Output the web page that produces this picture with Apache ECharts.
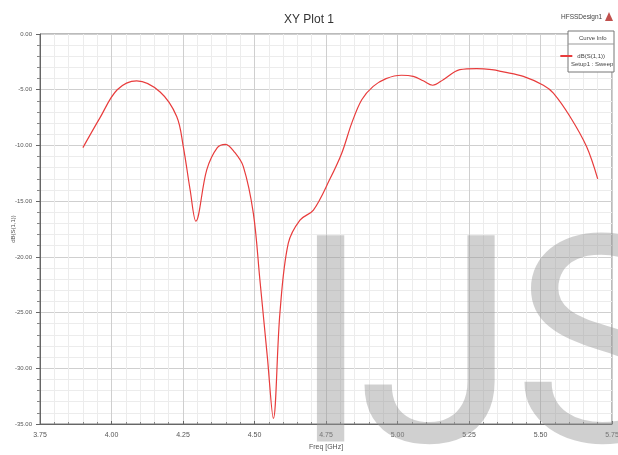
<!DOCTYPE html>
<html>
<head>
<meta charset="utf-8">
<script src="https://cdn.jsdelivr.net/npm/echarts@6/dist/echarts.min.js"></script>
<style>
  html, body { margin: 0; padding: 0; background: #fff; }
  #chart { width: 618px; height: 455px; }
</style>
</head>
<body>
<div id="chart"></div>
<script>
// frequency (GHz)
let freq = [3.90, 3.96, 4.02, 4.088, 4.17, 4.228, 4.251, 4.275, 4.295, 4.333, 4.37, 4.399, 4.43, 4.461,
  4.496, 4.519, 4.545, 4.566, 4.589, 4.618, 4.659, 4.706, 4.764, 4.805, 4.84, 4.875, 4.915, 4.96,
  5.014, 5.055, 5.09, 5.123, 5.16, 5.218, 5.277, 5.33, 5.37, 5.44, 5.51, 5.545, 5.603, 5.661, 5.70];
// dB(S(1,1))
let s11 = [-10.2, -7.5, -5.0, -4.2, -5.2, -7.4, -10.1, -14.0, -16.8, -12.2, -10.2, -9.9, -10.6, -11.9,
  -16.1, -22.1, -29.0, -34.5, -25.0, -18.8, -16.7, -15.8, -13.0, -10.7, -8.0, -5.9, -4.7, -4.0,
  -3.7, -3.8, -4.2, -4.6, -4.1, -3.2, -3.1, -3.2, -3.4, -3.8, -4.6, -5.3, -7.4, -10.1, -13.0];

let seriesData = freq.map(function (f, i) { return [f, s11[i]]; });

let chart = echarts.init(document.getElementById('chart'));

let wmStyle = { fontSize: 290, fontFamily: 'Roboto', fill: 'rgba(150,150,150,0.45)' };

let option = {
  animation: false,
  backgroundColor: '#fff',
  title: {
    text: 'XY Plot 1',
    left: 'center',
    top: 9,
    textStyle: { fontFamily: 'Liberation Sans', fontSize: 12, fontWeight: 'normal', color: '#333' }
  },
  grid: {
    left: 40, right: 6, top: 34, bottom: 31,
    outerBoundsMode: 'none',
    containLabel: false,
    show: true, borderColor: '#777', borderWidth: 1
  },
  legend: {
    right: 8, top: 48, z: 20,
    itemWidth: 12, itemHeight: 2, itemGap: 2,
    icon: 'rect',
    textStyle: { fontSize: 6, color: '#444' },
    data: ['dB(S(1,1))']
  },
  xAxis: {
    type: 'value',
    min: 3.75, max: 5.75, interval: 0.25,
    name: 'Freq [GHz]', nameLocation: 'middle', nameGap: 17,
    nameTextStyle: { fontSize: 7, color: '#555' },
    axisLine: { onZero: false, lineStyle: { color: '#666' } },
    axisTick: { show: true, length: 3, inside: true, lineStyle: { color: '#666' } },
    minorTick: { show: true, splitNumber: 5, length: 2, lineStyle: { color: '#888' } },
    axisLabel: { fontSize: 7, color: '#555', formatter: function (v) { return v.toFixed(2); } },
    splitLine: { show: true, lineStyle: { color: '#cfcfcf', width: 1 } },
    minorSplitLine: { show: true, lineStyle: { color: '#ececec', width: 1 } }
  },
  yAxis: {
    type: 'value',
    min: -35, max: 0, interval: 5,
    name: 'dB(S(1,1))', nameLocation: 'middle', nameGap: 24,
    nameMoveOverlap: false,
    nameTextStyle: { fontSize: 6, color: '#555' },
    axisLine: { show: true, lineStyle: { color: '#666' } },
    axisTick: { show: true, length: 4, lineStyle: { color: '#666' } },
    minorTick: { show: true, splitNumber: 5, length: 3, lineStyle: { color: '#888' } },
    axisLabel: { fontSize: 6, color: '#555', margin: 8, formatter: function (v) { return v.toFixed(2); } },
    splitLine: { show: true, lineStyle: { color: '#cfcfcf', width: 1 } },
    minorSplitLine: { show: true, lineStyle: { color: '#ececec', width: 1 } }
  },
  series: [
    {
      name: 'dB(S(1,1))',
      type: 'line',
      data: seriesData,
      smooth: 0.35,
      showSymbol: false,
      lineStyle: { color: '#e83c3c', width: 1.2 },
      itemStyle: { color: '#e83c3c' },
      z: 3
    }
  ],
  graphic: [
    {
      type: 'text', left: 561, top: 14, z: 1,
      style: { text: 'HFSSDesign1', fontSize: 6.5, fill: '#444' }
    },
    {
      type: 'polygon', z: 1,
      shape: { points: [[609, 12], [605, 21], [613, 21]] },
      style: { fill: '#c0504d' }
    },
    {
      type: 'rect', z: 10,
      shape: { x: 568, y: 31, width: 46, height: 41 },
      style: { fill: '#fff', stroke: '#777', lineWidth: 1 }
    },
    {
      type: 'line', z: 11,
      shape: { x1: 568, y1: 44, x2: 614, y2: 44 },
      style: { stroke: '#999', lineWidth: 1 }
    },
    {
      type: 'text', z: 11, left: 579, top: 35,
      style: { text: 'Curve Info', fontSize: 6, fill: '#444' }
    },
    {
      type: 'text', z: 11, left: 571, top: 61,
      style: { text: 'Setup1 : Sweep', fontSize: 6, fill: '#444' }
    },
    // watermark letters
    { type: 'text', z: 5, silent: true, left: 291, top: 224, style: Object.assign({ text: 'I' }, wmStyle) },
    { type: 'text', z: 5, silent: true, left: 357, top: 224, style: Object.assign({ text: 'J' }, wmStyle) },
    { type: 'text', z: 5, silent: true, left: 513, top: 224, style: Object.assign({ text: 'S' }, wmStyle) }
  ]
};

chart.setOption(option);
</script>
</body>
</html>
